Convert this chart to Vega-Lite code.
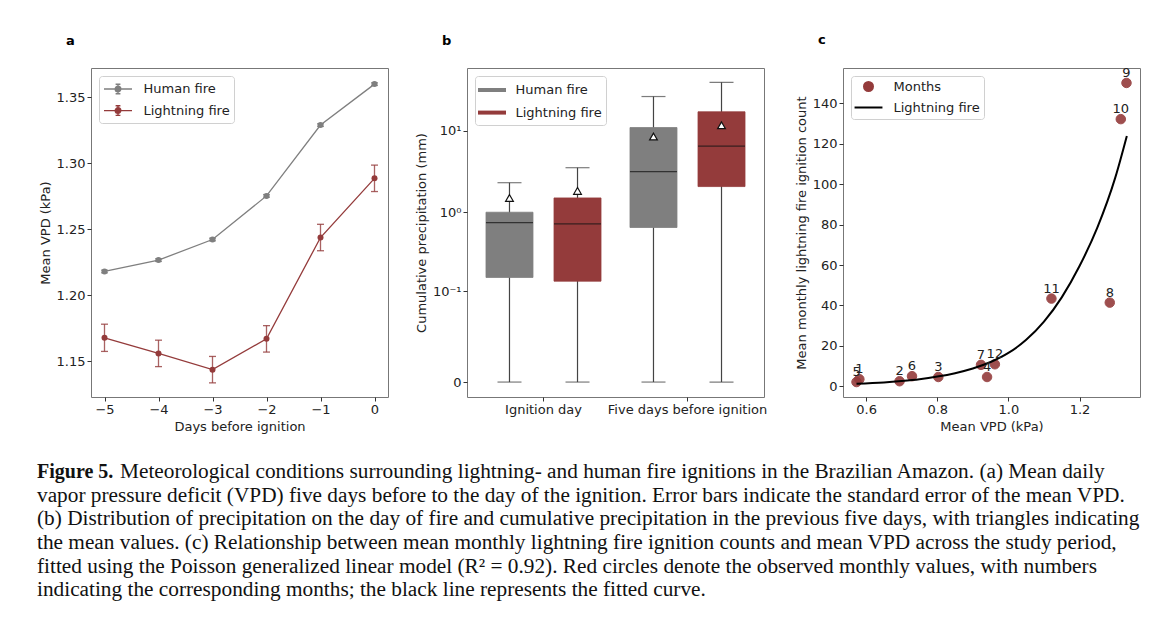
{
  "$schema": "https://vega.github.io/schema/vega-lite/v6.json",
  "background": "white",
  "padding": {"left": 37, "top": 33, "right": 5, "bottom": 5},
  "config": {
    "font": "DejaVu Sans",
    "view": {"stroke": "#777", "strokeWidth": 1},
    "axis": {
      "domain": false, "grid": false, "ticks": true, "tickColor": "#333", "tickSize": 4,
      "labelFont": "DejaVu Sans", "labelFontSize": 13, "labelColor": "#222", "labelPadding": 2,
      "titleFont": "DejaVu Sans", "titleFontSize": 13, "titleFontWeight": "normal", "titleColor": "#222"
    },
    "legend": {
      "orient": "top-left", "offset": 7.5, "padding": 4, "strokeColor": "#d0d0d0", "cornerRadius": 3,
      "fillColor": "rgba(255,255,255,0.85)", "labelFont": "DejaVu Sans", "labelFontSize": 13, "labelColor": "#222",
      "rowPadding": 4.6, "symbolSize": 256, "labelOffset": 22.5, "title": null
    },
    "title": {"anchor": "start", "frame": "group", "dx": -25, "offset": 20, "fontSize": 13, "fontWeight": "bold", "font": "DejaVu Sans", "color": "#000"}
  },
  "datasets": {
    "vpd": [
      {"day": -5, "fire": "Human fire", "vpd": 1.218, "se": 0.001},
      {"day": -4, "fire": "Human fire", "vpd": 1.2266, "se": 0.001},
      {"day": -3, "fire": "Human fire", "vpd": 1.2422, "se": 0.001},
      {"day": -2, "fire": "Human fire", "vpd": 1.2752, "se": 0.001},
      {"day": -1, "fire": "Human fire", "vpd": 1.3288, "se": 0.001},
      {"day": 0, "fire": "Human fire", "vpd": 1.3598, "se": 0.001},
      {"day": -5, "fire": "Lightning fire", "vpd": 1.1678, "se": 0.0103},
      {"day": -4, "fire": "Lightning fire", "vpd": 1.156, "se": 0.01},
      {"day": -3, "fire": "Lightning fire", "vpd": 1.1437, "se": 0.01},
      {"day": -2, "fire": "Lightning fire", "vpd": 1.167, "se": 0.01},
      {"day": -1, "fire": "Lightning fire", "vpd": 1.2437, "se": 0.01},
      {"day": 0, "fire": "Lightning fire", "vpd": 1.2885, "se": 0.01}
    ],
    "precip": [
      {"period": "Ignition day", "fire": "Human fire", "lower": 0, "q1": 0.152, "median": 0.745, "q3": 1.0, "upper": 2.31, "mean": 1.5},
      {"period": "Ignition day", "fire": "Lightning fire", "lower": 0, "q1": 0.136, "median": 0.718, "q3": 1.5, "upper": 3.53, "mean": 1.83},
      {"period": "Five days before ignition", "fire": "Human fire", "lower": 0, "q1": 0.647, "median": 3.155, "q3": 10.96, "upper": 26.3, "mean": 8.52},
      {"period": "Five days before ignition", "fire": "Lightning fire", "lower": 0, "q1": 2.07, "median": 6.5, "q3": 17.1, "upper": 39.3, "mean": 11.7}
    ],
    "months": [
      {"month": "1", "vpd": 0.581, "count": 3.5, "series": "Months"},
      {"month": "2", "vpd": 0.694, "count": 2.5, "series": "Months"},
      {"month": "3", "vpd": 0.803, "count": 4.6, "series": "Months"},
      {"month": "4", "vpd": 0.94, "count": 4.6, "series": "Months"},
      {"month": "5", "vpd": 0.573, "count": 2.1, "series": "Months"},
      {"month": "6", "vpd": 0.729, "count": 5.0, "series": "Months"},
      {"month": "7", "vpd": 0.923, "count": 10.6, "series": "Months"},
      {"month": "8", "vpd": 1.285, "count": 41.4, "series": "Months"},
      {"month": "9", "vpd": 1.332, "count": 150.1, "series": "Months"},
      {"month": "10", "vpd": 1.316, "count": 132.2, "series": "Months"},
      {"month": "11", "vpd": 1.121, "count": 43.4, "series": "Months"},
      {"month": "12", "vpd": 0.962, "count": 10.9, "series": "Months"}
    ],
    "curve": [
      {"vpd": 0.573, "count": 1.3, "series": "Lightning fire"},
      {"vpd": 0.65, "count": 1.9, "series": "Lightning fire"},
      {"vpd": 0.7, "count": 2.6, "series": "Lightning fire"},
      {"vpd": 0.75, "count": 3.5, "series": "Lightning fire"},
      {"vpd": 0.8, "count": 4.8, "series": "Lightning fire"},
      {"vpd": 0.85, "count": 6.5, "series": "Lightning fire"},
      {"vpd": 0.9, "count": 8.8, "series": "Lightning fire"},
      {"vpd": 0.95, "count": 12.0, "series": "Lightning fire"},
      {"vpd": 1.0, "count": 16.5, "series": "Lightning fire"},
      {"vpd": 1.05, "count": 23.0, "series": "Lightning fire"},
      {"vpd": 1.1, "count": 32.0, "series": "Lightning fire"},
      {"vpd": 1.15, "count": 44.0, "series": "Lightning fire"},
      {"vpd": 1.2, "count": 59.5, "series": "Lightning fire"},
      {"vpd": 1.25, "count": 78.5, "series": "Lightning fire"},
      {"vpd": 1.3, "count": 103.0, "series": "Lightning fire"},
      {"vpd": 1.333, "count": 123.9, "series": "Lightning fire"}
    ],
    "caption": [
      {"line": 1, "part": "head", "text": "Figure 5."},
      {"line": 1, "part": "lead", "text": "Meteorological conditions surrounding lightning- and human fire ignitions in the Brazilian Amazon. (a) Mean daily"},
      {"line": 2, "part": "body", "text": "vapor pressure deficit (VPD) five days before to the day of the ignition. Error bars indicate the standard error of the mean VPD."},
      {"line": 3, "part": "body", "text": "(b) Distribution of precipitation on the day of fire and cumulative precipitation in the previous five days, with triangles indicating"},
      {"line": 4, "part": "body", "text": "the mean values. (c) Relationship between mean monthly lightning fire ignition counts and mean VPD across the study period,"},
      {"line": 5, "part": "body", "text": "fitted using the Poisson generalized linear model (R² = 0.92). Red circles denote the observed monthly values, with numbers"},
      {"line": 6, "part": "body", "text": "indicating the corresponding months; the black line represents the fitted curve."}
    ]
  },
  "spacing": 26,
  "vconcat": [
    {
      "bounds": "flush",
      "spacing": 79,
      "resolve": {"scale": {"color": "independent", "stroke": "independent", "shape": "independent"}, "legend": {"color": "independent", "stroke": "independent", "shape": "independent"}},
      "hconcat": [
        {
          "width": 297, "height": 329,
          "title": {"text": "a"},
          "data": {"name": "vpd"},
          "encoding": {
            "x": {"field": "day", "type": "quantitative", "scale": {"domain": [-5.25, 0.25], "nice": false, "zero": false},
                  "axis": {"values": [-5, -4, -3, -2, -1, 0], "title": "Days before ignition"}},
            "y": {"field": "vpd", "type": "quantitative", "scale": {"domain": [1.123, 1.372], "nice": false, "zero": false},
                  "axis": {"values": [1.15, 1.2, 1.25, 1.3, 1.35], "format": ".2f", "title": "Mean VPD (kPa)"}},
            "color": {"field": "fire", "type": "nominal", "scale": {"domain": ["Human fire", "Lightning fire"], "range": ["#7f7f7f", "#943b3b"]}}
          },
          "layer": [
            {"mark": {"type": "line", "strokeWidth": 1.3},
             "encoding": {"color": {"field": "fire", "type": "nominal",
               "legend": {"encode": {"symbols": {"update": {
                 "shape": {"value": "M-1,0H2.5M0.75,-0.6V0.6M0.45,-0.6H1.05M0.45,0.6H1.05M0.4,0A0.35,0.35,0,1,1,1.1,0A0.35,0.35,0,1,1,0.4,0Z"},
                 "fill": {"signal": "datum.value === 'Human fire' ? '#7f7f7f' : '#943b3b'"},
                 "stroke": {"signal": "datum.value === 'Human fire' ? '#7f7f7f' : '#943b3b'"},
                 "strokeWidth": {"value": 1.4}, "opacity": {"value": 1}, "fillOpacity": {"value": 1}, "strokeOpacity": {"value": 1}}}}}}}},
            {"mark": {"type": "errorbar", "ticks": {"size": 7}, "thickness": 1.3, "opacity": 0.8},
             "encoding": {"y": {"field": "vpd", "type": "quantitative"}, "yError": {"field": "se"},
                          "color": {"field": "fire", "type": "nominal", "legend": null}}},
            {"mark": {"type": "point", "filled": true, "size": 36, "opacity": 1},
             "encoding": {"color": {"field": "fire", "type": "nominal", "legend": null}}}
          ]
        },
        {
          "width": 297, "height": 329,
          "title": {"text": "b"},
          "data": {"name": "precip"},
          "encoding": {
            "x": {"field": "period", "type": "nominal", "sort": ["Ignition day", "Five days before ignition"],
                  "scale": {"paddingInner": 0, "paddingOuter": 0.03125},
                  "axis": {"title": null, "labelAngle": 0}},
            "xOffset": {"field": "fire", "type": "nominal", "sort": ["Human fire", "Lightning fire"],
                        "scale": {"paddingInner": 0.309, "paddingOuter": 0.213}}
          },
          "layer": [
            {"mark": {"type": "rule", "color": "#444", "strokeWidth": 1.2},
             "encoding": {
               "y": {"field": "lower", "type": "quantitative",
                     "scale": {"type": "symlog", "constant": 0.0084, "domain": [-0.0044, 58.8], "nice": false, "zero": false},
                     "axis": {"values": [0, 0.1, 1, 10], "title": "Cumulative precipitation (mm)",
                              "labelExpr": "datum.value === 0 ? '0' : datum.value === 0.1 ? '10⁻¹' : datum.value === 1 ? '10⁰' : '10¹'"}},
               "y2": {"field": "upper"}}},
            {"mark": {"type": "tick", "color": "#444", "size": 24, "thickness": 1.2},
             "encoding": {"y": {"field": "lower", "type": "quantitative"}}},
            {"mark": {"type": "tick", "color": "#444", "size": 24, "thickness": 1.2},
             "encoding": {"y": {"field": "upper", "type": "quantitative"}}},
            {"mark": {"type": "bar", "opacity": 1, "strokeWidth": 0.8},
             "encoding": {
               "y": {"field": "q1", "type": "quantitative"}, "y2": {"field": "q3"},
               "color": {"field": "fire", "type": "nominal", "scale": {"domain": ["Human fire", "Lightning fire"], "range": ["#7f7f7f", "#943b3b"]},
                 "legend": {"symbolType": "M-1,0H2.5", "symbolStrokeWidth": 4, "symbolOffset": -3, "labelOffset": 19.5}},
               "stroke": {"field": "fire", "type": "nominal", "scale": {"domain": ["Human fire", "Lightning fire"], "range": ["#7f7f7f", "#943b3b"]},
                 "legend": {"symbolType": "M-1,0H2.5", "symbolStrokeWidth": 4, "symbolOffset": -3, "labelOffset": 19.5}}}},
            {"mark": {"type": "tick", "color": "#111", "size": 47, "thickness": 1.2},
             "encoding": {"y": {"field": "median", "type": "quantitative"}}},
            {"mark": {"type": "point", "shape": "triangle-up", "filled": true, "fill": "white", "stroke": "#111", "strokeWidth": 1.2, "size": 60, "opacity": 1},
             "encoding": {"y": {"field": "mean", "type": "quantitative"}}}
          ]
        },
        {
          "width": 297, "height": 329,
          "title": {"text": "c"},
          "encoding": {
            "x": {"field": "vpd", "type": "quantitative", "scale": {"domain": [0.535, 1.37], "nice": false, "zero": false},
                  "axis": {"values": [0.6, 0.8, 1.0, 1.2], "format": ".1f", "title": "Mean VPD (kPa)"}},
            "y": {"field": "count", "type": "quantitative", "scale": {"domain": [-5.3, 157.5], "nice": false, "zero": false},
                  "axis": {"values": [0, 20, 40, 60, 80, 100, 120, 140], "title": "Mean monthly lightning fire ignition count"}}
          },
          "layer": [
            {"data": {"name": "months"},
             "mark": {"type": "point", "filled": true, "size": 90, "opacity": 0.9, "strokeWidth": 1},
             "encoding": {
               "color": {"field": "series", "type": "nominal",
                 "scale": {"domain": ["Months", "Lightning fire"], "range": ["#943b3b", "#000000"]},
                 "legend": {"symbolSize": 81, "symbolStrokeWidth": 2, "symbolOffset": 7, "labelOffset": 18.5, "rowPadding": 6, "symbolOpacity": 1}},
               "stroke": {"field": "series", "type": "nominal",
                 "scale": {"domain": ["Months", "Lightning fire"], "range": ["#943b3b", "#000000"]},
                 "legend": {"symbolSize": 81, "symbolStrokeWidth": 2, "symbolOffset": 7, "labelOffset": 18.5, "rowPadding": 6, "symbolOpacity": 1}},
               "shape": {"field": "series", "type": "nominal",
                 "scale": {"domain": ["Months", "Lightning fire"], "range": ["circle", "M-3.1,0H3.1"]},
                 "legend": {"symbolSize": 81, "symbolStrokeWidth": 2, "symbolOffset": 7, "labelOffset": 18.5, "rowPadding": 6, "symbolOpacity": 1}}}},
            {"data": {"name": "curve"},
             "mark": {"type": "line", "strokeWidth": 2, "interpolate": "monotone"},
             "encoding": {"color": {"field": "series", "type": "nominal", "legend": null}}},
            {"data": {"name": "months"},
             "mark": {"type": "text", "dy": -6, "baseline": "alphabetic", "fontSize": 13, "color": "#222"},
             "encoding": {"text": {"field": "month"}}}
          ]
        }
      ]
    },
    {
      "width": 1100, "height": 142,
      "view": {"stroke": null},
      "data": {"name": "caption"},
      "encoding": {
        "y": {"field": "line", "type": "ordinal", "scale": {"type": "point", "padding": 0.5}, "axis": null},
        "x": {"value": -54},
        "text": {"field": "text"}
      },
      "layer": [
        {"transform": [{"filter": "datum.part === 'head'"}],
         "mark": {"type": "text", "align": "left", "baseline": "middle", "font": "Liberation Serif", "fontSize": 20, "fontWeight": "bold", "color": "#111"}},
        {"transform": [{"filter": "datum.part === 'lead'"}],
         "mark": {"type": "text", "align": "left", "baseline": "middle", "dx": 83, "font": "Liberation Serif", "fontSize": 21.3, "color": "#111"}},
        {"transform": [{"filter": "datum.part === 'body'"}],
         "mark": {"type": "text", "align": "left", "baseline": "middle", "font": "Liberation Serif", "fontSize": 21.3, "color": "#111"}}
      ]
    }
  ]
}
